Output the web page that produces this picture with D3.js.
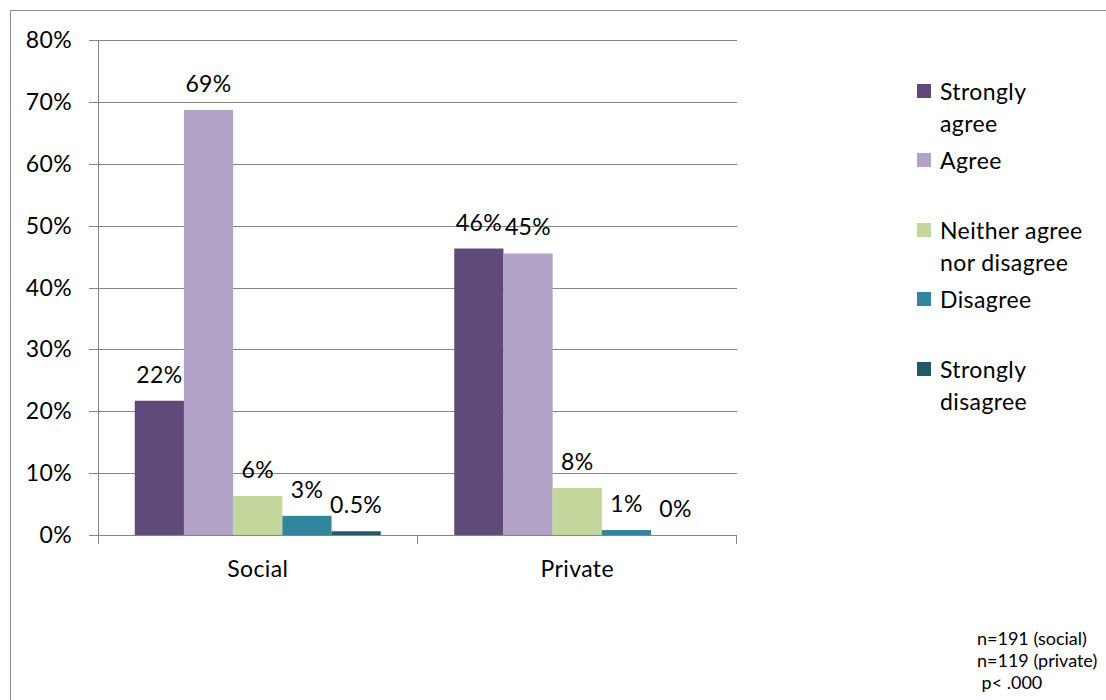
<!DOCTYPE html>
<html><head><meta charset="utf-8">
<script src="https://cdn.jsdelivr.net/npm/d3@7"></script>
<style>body{margin:0;background:#fff;} svg{display:block;font-family:Lato,"Open Sans",sans-serif;}</style>
</head><body>
<svg id="c" width="1106" height="700"></svg>
<script>
const categories = ["Social", "Private"];
const seriesNames = ["Strongly agree", "Agree", "Neither agree nor disagree", "Disagree", "Strongly disagree"];
const socialValues = [21.7, 68.7, 6.3, 3.1, 0.6];
const privateValues = [46.3, 45.5, 7.6, 0.8, 0];
const socialLabels = ["22%", "69%", "6%", "3%", "0.5%"];
const privateLabels = ["46%", "45%", "8%", "1%", "0%"];
const yTicks = [0, 10, 20, 30, 40, 50, 60, 70, 80];
const colors = ["#604A7B", "#B3A2C7", "#C3D69B", "#31859C", "#215968"];
const legendLines = [["Strongly", "agree"], ["Agree"], ["Neither agree", "nor disagree"], ["Disagree"], ["Strongly", "disagree"]];
const notes = ["n=191 (social)", "n=119 (private)", " p< .000"];

const values = [socialValues, privateValues];
const labels = [socialLabels, privateLabels];

const FS = 23, LS = "0.4px";
const svg = d3.select("#c");
// outer border
svg.append("rect").attr("x", 10.5).attr("y", 10.5).attr("width", 1120).attr("height", 720)
  .attr("fill", "none").attr("stroke", "#8c8c8c").attr("stroke-width", 1);

const pLeft = 98, pRight = 737, pTop = 40, pBottom = 535;
const y = d3.scaleLinear().domain([0, 80]).range([pBottom, pTop]);
const x0 = d3.scaleBand().domain(categories).range([pLeft, pRight]).paddingInner(0).paddingOuter(0);
const x1 = d3.scaleBand().domain(d3.range(5)).range([36.75, x0.bandwidth() - 36.75]);

const grid = "#868686";
// gridlines
svg.append("g").selectAll("line").data(yTicks).join("line")
  .attr("x1", pLeft - 9).attr("x2", pRight).attr("y1", d => Math.round(y(d)) + 0.5).attr("y2", d => Math.round(y(d)) + 0.5)
  .attr("stroke", grid).attr("stroke-width", 1);
// y axis line
svg.append("line").attr("x1", pLeft + 0.5).attr("x2", pLeft + 0.5).attr("y1", pTop).attr("y2", pBottom + 9)
  .attr("stroke", grid);
// y labels
svg.append("g").selectAll("text").data(yTicks).join("text")
  .attr("x", 72).attr("y", d => y(d) + 8).attr("text-anchor", "end")
  .attr("font-size", FS).attr("letter-spacing", LS).attr("fill", "#000").text(d => d + "%");
// category ticks
const catBounds = categories.map(c => x0(c) + x0.bandwidth());
svg.append("g").selectAll("line").data(catBounds).join("line")
  .attr("x1", d => Math.round(d) - 0.5).attr("x2", d => Math.round(d) - 0.5)
  .attr("y1", pBottom).attr("y2", pBottom + 9).attr("stroke", grid);
// category labels
svg.append("g").selectAll("text").data(categories).join("text")
  .attr("x", d => x0(d) + x0.bandwidth() / 2).attr("y", 577).attr("text-anchor", "middle")
  .attr("font-size", FS).attr("letter-spacing", LS).attr("fill", "#000").text(d => d);

// bars
categories.forEach((cat, ci) => {
  const g = svg.append("g").attr("transform", `translate(${x0(cat)},0)`);
  g.selectAll("rect").data(values[ci]).join("rect")
    .attr("x", (d, i) => x1(i)).attr("width", x1.bandwidth())
    .attr("y", d => y(d)).attr("height", d => y(0) - y(d))
    .attr("fill", (d, i) => colors[i]);
  g.selectAll("text").data(values[ci]).join("text")
    .attr("x", (d, i) => x1(i) + x1.bandwidth() / 2)
    .attr("y", d => y(d) - 18)
    .attr("text-anchor", "middle").attr("font-size", FS).attr("letter-spacing", LS).attr("fill", "#000")
    .text((d, i) => labels[ci][i]);
});

// legend
const legendBase = [100, 169, 239, 308, 378];
const lg = svg.append("g");
legendLines.forEach((lines, i) => {
  lg.append("rect").attr("x", 917).attr("y", legendBase[i] - 16).attr("width", 14).attr("height", 14)
    .attr("fill", colors[i]);
  lines.forEach((t, j) => {
    lg.append("text").attr("x", 940).attr("y", legendBase[i] + j * 32)
      .attr("font-size", FS).attr("letter-spacing", LS).attr("fill", "#000").text(t);
  });
});

// notes
svg.append("g").selectAll("text").data(notes).join("text")
  .attr("x", 977).attr("y", (d, i) => 645 + i * 22)
  .attr("font-size", 18).attr("fill", "#000").style("white-space", "pre")
  .text(d => d);
</script>
</body></html>
